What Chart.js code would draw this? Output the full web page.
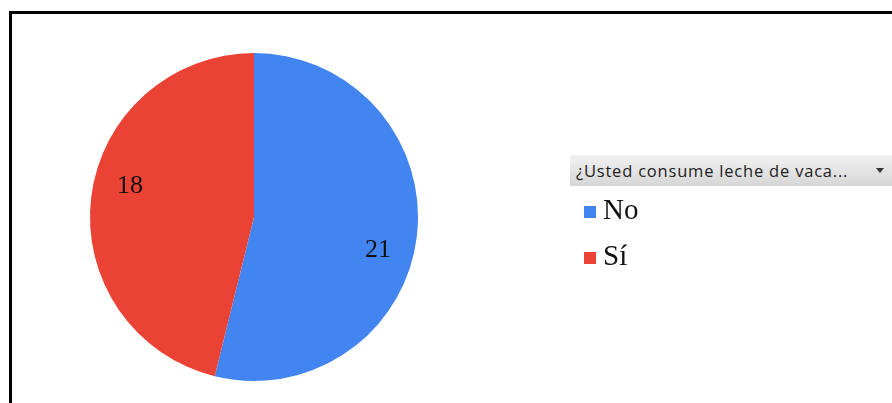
<!DOCTYPE html>
<html>
<head>
<meta charset="utf-8">
<script src="https://cdn.jsdelivr.net/npm/chart.js@4.4.1/dist/chart.umd.min.js"></script>
<style>
  html, body { margin: 0; padding: 0; background: #fff; overflow: hidden; }
  #wrap { position: relative; width: 892px; height: 403px; }
  #frame {
    position: absolute; left: 9px; top: 11px; width: 900px; height: 410px;
    border: 3px solid #000; box-sizing: border-box;
  }
  #pie { position: absolute; left: 0; top: 0; }
  #legendHead {
    position: absolute; left: 570px; top: 155px; width: 330px; height: 31px;
    background: linear-gradient(#f2f2f2, #d6d6d6);
    font-family: "Open Sans", "DejaVu Sans", sans-serif; font-size: 16.5px; letter-spacing: 0.8px; color: #222;
    line-height: 31px; padding-left: 6px; box-sizing: border-box;
  }
  #legendHead .arrow {
    position: absolute; left: 306px; top: 13px; width: 0; height: 0;
    border-left: 4px solid transparent; border-right: 4px solid transparent; border-top: 5px solid #333;
  }
  #legendItems { position: absolute; left: 584px; top: 194px; }
  .item { height: 46px; position: relative; font-family: "Liberation Serif", serif; font-size: 29px; color: #111; }
  .item .sw { position: absolute; left: 0; top: 12px; width: 12px; height: 12px; }
  .item .tx { position: absolute; left: 19px; top: -1px; }
</style>
</head>
<body>
<div id="wrap">
  <div id="frame"></div>
  <canvas id="pie" width="892" height="403"></canvas>
  <div id="legendHead">¿Usted consume leche de vaca...<span class="arrow"></span></div>
  <div id="legendItems"></div>
</div>
<script>
// respuestas
const labels = ['No', 'Sí'];
const values = [21, 18];
const colors = ['#4285f0', '#ea4335'];

// leyenda en HTML
const legendBox = document.getElementById('legendItems');
labels.forEach((lab, i) => {
    const div = document.createElement('div');
    div.className = 'item';
    div.innerHTML = `<span class="sw" style="background:${colors[i]}"></span><span class="tx">${lab}</span>`;
    legendBox.appendChild(div);
});

// numeros dentro de cada porcion
const valueLabels = {
    id: 'valueLabels',
    afterDatasetsDraw(chart) {
        const ctx = chart.ctx;
        const meta = chart.getDatasetMeta(0);
        ctx.save();
        ctx.font = '26px "Liberation Serif", serif';
        ctx.fillStyle = '#111';
        ctx.textAlign = 'center';
        ctx.textBaseline = 'middle';
        meta.data.forEach((arc, i) => {
            const p = arc.getProps(['x', 'y', 'startAngle', 'endAngle', 'outerRadius'], true);
            const mid = (p.startAngle + p.endAngle) / 2 + 0.13;
            const r = p.outerRadius * 0.78;
            ctx.fillText(values[i], p.x + Math.cos(mid) * r, p.y + Math.sin(mid) * r + 1);
        });
        ctx.restore();
    }
};

new Chart(document.getElementById('pie').getContext('2d'), {
    type: 'pie',
    data: {
        labels: labels,
        datasets: [{
            data: values,
            backgroundColor: colors,
            borderWidth: 0
        }]
    },
    options: {
        responsive: false,
        animation: false,
        layout: { padding: { left: 90, right: 474, top: 52, bottom: 21 } },
        plugins: {
            legend: { display: false },
            tooltip: { enabled: false }
        }
    },
    plugins: [valueLabels]
});
</script>
</body>
</html>
